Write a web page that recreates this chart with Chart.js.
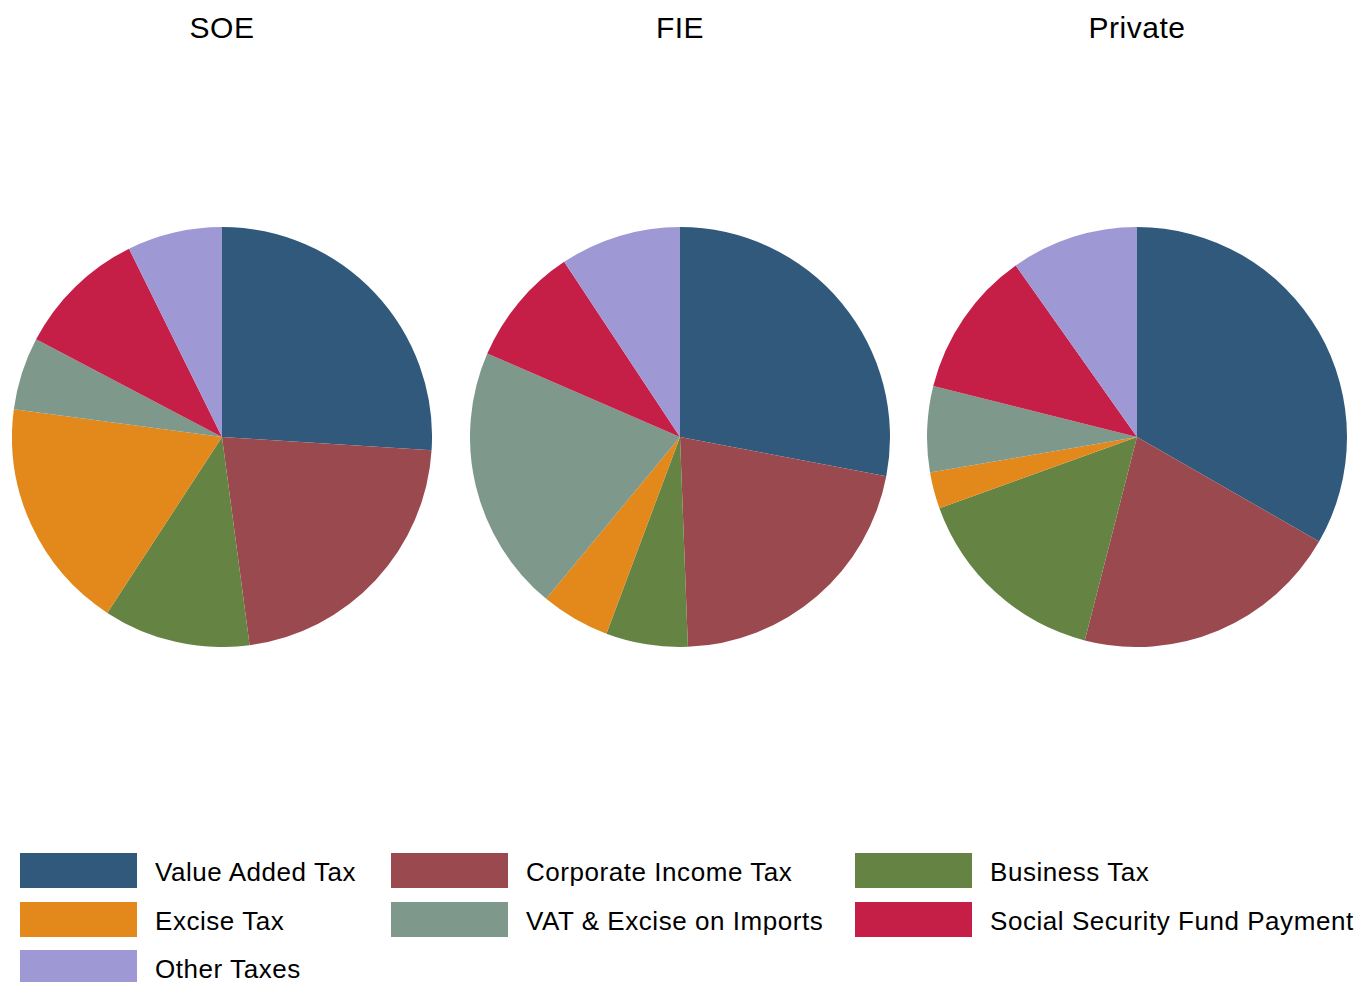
<!DOCTYPE html>
<html>
<head>
<meta charset="utf-8">
<script src="https://cdn.jsdelivr.net/npm/chart.js@4"></script>
<style>
  body { margin: 0; background: #fff; font-family: "Liberation Sans", Arial, sans-serif; }
  .wrap { position: relative; width: 1366px; height: 982px; }
  .title { position: absolute; top: 11px; width: 300px; text-align: center; font-size: 30px; color: #000; letter-spacing: 0.5px; }
  .pie { position: absolute; top: 227px; width: 420px; height: 420px; }
  .sw { position: absolute; width: 117px; height: 35px; }
  .lab { position: absolute; font-size: 26px; color: #000; line-height: 35px; letter-spacing: 0.55px; white-space: nowrap; }
</style>
</head>
<body>
<div class="wrap" id="wrap"></div>
<script>
var categories = ['Value Added Tax', 'Corporate Income Tax', 'Business Tax', 'Excise Tax',
  'VAT & Excise on Imports', 'Social Security Fund Payment', 'Other Taxes'];
var colors = ['#31597c', '#9a4a4f', '#658343', '#e3891c', '#7e988c', '#c51e47', '#9e98d4'];
var groups = ['SOE', 'FIE', 'Private'];
var soeValues = [26.0, 21.9, 11.3, 17.9, 5.6, 10.0, 7.3];
var fieValues = [28.0, 21.4, 6.3, 5.3, 20.5, 9.2, 9.3];
var privateValues = [33.3, 20.7, 15.5, 2.8, 6.6, 11.3, 9.8];
var allValues = [soeValues, fieValues, privateValues];
var centers = [222, 680, 1137];

var wrap = document.getElementById('wrap');
groups.forEach(function (g, i) {
  var t = document.createElement('div');
  t.className = 'title';
  t.style.left = (centers[i] - 150) + 'px';
  t.textContent = g;
  wrap.appendChild(t);
  var box = document.createElement('div');
  box.className = 'pie';
  box.style.left = (centers[i] - 210) + 'px';
  var c = document.createElement('canvas');
  box.appendChild(c);
  wrap.appendChild(box);
  new Chart(c, {
    type: 'pie',
    data: { labels: categories, datasets: [{ data: allValues[i], backgroundColor: colors, borderWidth: 0 }] },
    options: {
      responsive: true, maintainAspectRatio: false, animation: false,
      plugins: { legend: { display: false }, tooltip: { enabled: false } }
    }
  });
});

// legend in reading order, 3 columns
var colX = [20, 391, 855];
var rowY = [853, 902, 950];
categories.forEach(function (name, n) {
  var col = n % 3, row = Math.floor(n / 3);
  var s = document.createElement('div');
  s.className = 'sw';
  s.style.left = colX[col] + 'px';
  s.style.top = rowY[row] + 'px';
  s.style.background = colors[n];
  wrap.appendChild(s);
  var l = document.createElement('div');
  l.className = 'lab';
  l.style.left = (colX[col] + 135) + 'px';
  l.style.top = (rowY[row] + 2) + 'px';
  l.textContent = name;
  wrap.appendChild(l);
});
</script>
</body>
</html>
